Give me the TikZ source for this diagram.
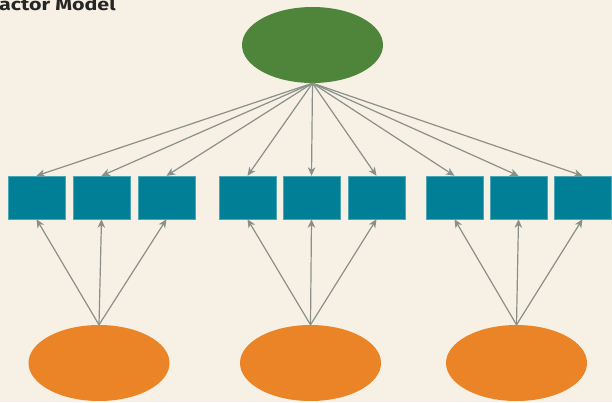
\documentclass[tikz,border=0pt]{standalone}
\usepackage{fontspec}
\newfontfamily\titlefont{Fira Sans}
\usetikzlibrary{shapes.geometric,arrows.meta}
\definecolor{bg}{HTML}{F7F0E5}
\definecolor{gfill}{HTML}{4E853A}
\definecolor{tfill}{HTML}{007F96}
\definecolor{ofill}{HTML}{EA8427}
\definecolor{arr}{HTML}{8A9089}
\tikzset{
  latent/.style={ellipse, minimum width=141pt, minimum height=76pt, inner sep=0pt, draw=none},
  gen/.style={latent, fill=gfill},
  spec/.style={latent, fill=ofill},
  item/.style={rectangle, minimum width=57pt, minimum height=43pt, inner sep=0pt, fill=tfill, draw=tfill!70!white, line width=0.4pt},
  load/.style={draw=arr, line width=1.2pt, -{Stealth[length=8.5pt,width=7.5pt,inset=2.5pt]}}
}
\begin{document}
\begin{tikzpicture}[x=1pt,y=-1pt]
\useasboundingbox (0,0) rectangle (612,402);
\clip (0,0) rectangle (612,402);
\fill[bg] (0,0) rectangle (612,402);
\node[anchor=base west, inner sep=0pt, font=\titlefont\bfseries\fontsize{17}{17}\selectfont, text=black!85] (title) at (-1,10.5) {\scalebox{1.26}[1]{actor Model}};
\node[gen] (g) at (312.5,45) {};
\node[spec] (o1) at (99,363) {};
\node[spec] (o2) at (310.5,363) {};
\node[spec] (o3) at (516.5,363) {};
\foreach \i/\x in {1/36.5,2/101.5,3/166.5,4/247.5,5/311.5,6/376.5,7/454.5,8/518.5,9/582.5}{
  \node[item] (b\i) at (\x,197.5) {};
}
\foreach \i in {1,...,9}{
  \draw[load] (g.south) -- (b\i.north);
}
\foreach \i in {1,2,3}{ \draw[load] (o1.north) -- (b\i.south); }
\foreach \i in {4,5,6}{ \draw[load] (o2.north) -- (b\i.south); }
\foreach \i in {7,8,9}{ \draw[load] (o3.north) -- (b\i.south); }
\end{tikzpicture}
\end{document}
